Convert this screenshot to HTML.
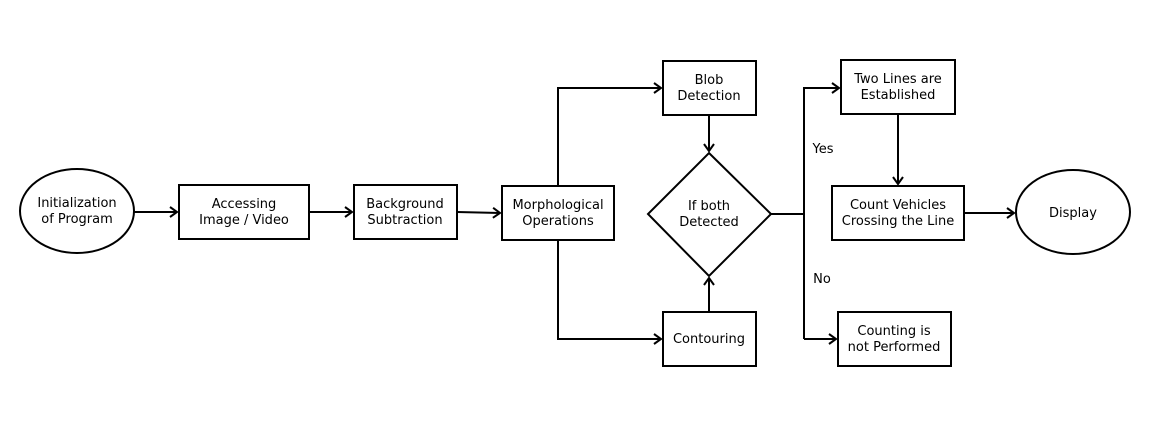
<!DOCTYPE html>
<html><head><meta charset="utf-8"><style>
html,body{margin:0;padding:0;background:#fff;}
svg text{font-family:"DejaVu Sans","Liberation Sans",sans-serif;font-size:13px;fill:#000;text-anchor:middle;}
</style></head><body>
<svg width="1161" height="417" viewBox="0 0 1161 417" xmlns="http://www.w3.org/2000/svg">
<defs>
<marker id="a" markerWidth="12" markerHeight="12" refX="10" refY="6" orient="auto" markerUnits="userSpaceOnUse">
<polyline points="3,1 10,6 3,11" fill="none" stroke="#000" stroke-width="2"/>
</marker>
</defs>
<g fill="none" stroke="#000" stroke-width="2">
<ellipse cx="77" cy="211" rx="57" ry="42"/>
<rect x="179" y="185" width="130" height="54"/>
<rect x="354" y="185" width="103" height="54"/>
<rect x="502" y="186" width="112" height="54"/>
<rect x="663" y="61" width="93" height="54"/>
<polygon points="709,153 771,214 709,276 648,214"/>
<rect x="663" y="312" width="93" height="54"/>
<rect x="841" y="60" width="114" height="54"/>
<rect x="832" y="186" width="132" height="54"/>
<ellipse cx="1073" cy="212" rx="57" ry="42"/>
<rect x="838" y="312" width="113" height="54"/>
<line x1="134" y1="212" x2="177" y2="212" marker-end="url(#a)"/>
<line x1="309" y1="212" x2="352" y2="212" marker-end="url(#a)"/>
<line x1="457" y1="212" x2="500" y2="213" marker-end="url(#a)"/>
<polyline points="558,186 558,88 661,88" marker-end="url(#a)"/>
<polyline points="558,240 558,339 661,339" marker-end="url(#a)"/>
<line x1="709" y1="115" x2="709" y2="151" marker-end="url(#a)"/>
<line x1="709" y1="312" x2="709" y2="278" marker-end="url(#a)"/>
<line x1="771" y1="214" x2="804" y2="214"/>
<polyline points="804,339 804,88 839,88" marker-end="url(#a)"/>
<line x1="804" y1="339" x2="836" y2="339" marker-end="url(#a)"/>
<line x1="898" y1="114" x2="898" y2="184" marker-end="url(#a)"/>
<line x1="964" y1="213" x2="1014" y2="213" marker-end="url(#a)"/>
</g>
<text x="77" y="207">Initialization</text><text x="77" y="223">of Program</text>
<text x="244" y="208">Accessing</text><text x="244" y="224">Image / Video</text>
<text x="405" y="208">Background</text><text x="405" y="224">Subtraction</text>
<text x="558" y="209">Morphological</text><text x="558" y="225">Operations</text>
<text x="709" y="84">Blob</text><text x="709" y="100">Detection</text>
<text x="709" y="210">If both</text><text x="709" y="226">Detected</text>
<text x="709" y="343">Contouring</text>
<text x="898" y="83">Two Lines are</text><text x="898" y="99">Established</text>
<text x="898" y="209">Count Vehicles</text><text x="898" y="225">Crossing the Line</text>
<text x="1073" y="217">Display</text>
<text x="894" y="335">Counting is</text><text x="894" y="351">not Performed</text>
<text x="823" y="153">Yes</text>
<text x="822" y="283">No</text>
</svg>
</body></html>
